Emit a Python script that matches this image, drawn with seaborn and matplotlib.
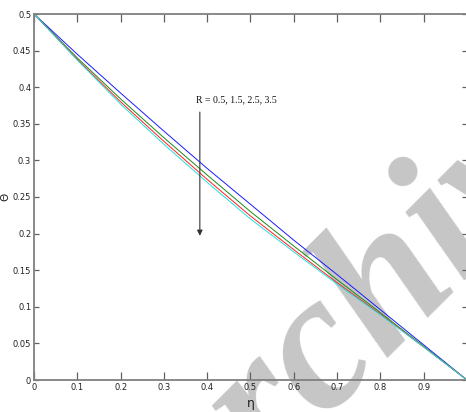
import numpy as np
import pandas as pd
import matplotlib
matplotlib.use("Agg")
import matplotlib.pyplot as plt
import seaborn as sns

# Temperature profile Theta(eta) for several values of the radiation parameter R
eta = [0.0, 0.1, 0.2, 0.3, 0.4, 0.5, 0.6, 0.7, 0.8, 0.9, 1.0]
theta_R05 = [0.500, 0.445, 0.392, 0.340, 0.289, 0.240, 0.191, 0.144, 0.096, 0.048, 0.0]
theta_R15 = [0.500, 0.440, 0.384, 0.331, 0.280, 0.230, 0.183, 0.137, 0.092, 0.046, 0.0]
theta_R25 = [0.500, 0.438, 0.380, 0.326, 0.274, 0.224, 0.178, 0.133, 0.090, 0.045, 0.0]
theta_R35 = [0.500, 0.437, 0.377, 0.322, 0.270, 0.220, 0.175, 0.131, 0.089, 0.045, 0.0]
r_values = ["0.5", "1.5", "2.5", "3.5"]
line_colors = ["#1a1aff", "#1a8a1a", "#ff2020", "#20e0e0"]

x_ticks = [0, 0.1, 0.2, 0.3, 0.4, 0.5, 0.6, 0.7, 0.8, 0.9]
x_tick_labels = ["0", "0.1", "0.2", "0.3", "0.4", "0.5", "0.6", "0.7", "0.8", "0.9"]
y_ticks = [0, 0.05, 0.1, 0.15, 0.2, 0.25, 0.3, 0.35, 0.4, 0.45, 0.5]
y_tick_labels = ["0", "0.05", "0.1", "0.15", "0.2", "0.25", "0.3", "0.35", "0.4", "0.45", "0.5"]

frames = []
for r, th in zip(r_values, [theta_R05, theta_R15, theta_R25, theta_R35]):
    frames.append(pd.DataFrame({"eta": eta, "theta": th, "R": r}))
df = pd.concat(frames, ignore_index=True)

sns.set_theme(style="white")
plt.rcParams["font.family"] = ["Liberation Sans Narrow", "DejaVu Sans"]

fig = plt.figure(figsize=(4.66, 4.12), dpi=100)
ax = fig.add_axes([34 / 466, 32 / 412, 433 / 466, 366 / 412])

# faint watermark behind the curves
ax.text(0.390, -0.393, "Archive", transform=fig.transFigure, fontsize=140,
        family="Liberation Serif", style="italic", weight="bold",
        color="#c6c6c6", rotation=45, rotation_mode="anchor",
        ha="left", va="baseline", zorder=0.5, clip_on=False)

sns.lineplot(data=df, x="eta", y="theta", hue="R", palette=line_colors,
             linewidth=0.7, legend=False, ax=ax, zorder=2)

ax.set_xlim(0, 1)
ax.set_ylim(0, 0.5)
ax.set_xticks(x_ticks)
ax.set_xticklabels(x_tick_labels)
ax.set_yticks(y_ticks)
ax.set_yticklabels(y_tick_labels)

for side in ["left", "right", "top", "bottom"]:
    ax.spines[side].set_visible(True)
    ax.spines[side].set_color("#808080")
    ax.spines[side].set_linewidth(1.3)

ax.tick_params(axis="x", direction="in", length=6, width=0.9, color="#606060",
               labelsize=6, pad=2, top=True, bottom=True, labelcolor="#222222")
ax.tick_params(axis="y", direction="in", length=3.5, width=0.9, color="#606060",
               labelsize=6, pad=2, left=True, right=True, labelcolor="#222222")

ax.set_xlabel("η", fontsize=9, labelpad=4, color="#222222", family="DejaVu Sans")
ax.set_ylabel("Θ", fontsize=7.5, color="#222222", family="DejaVu Sans")
ax.yaxis.set_label_coords(-0.054, 0.5)

ax.annotate("", xy=(0.383, 0.197), xytext=(0.383, 0.366),
            arrowprops=dict(arrowstyle="-|>", color="#333333", lw=0.8,
                            mutation_scale=8, shrinkA=0, shrinkB=0))
ax.text(0.374, 0.380, "R = 0.5, 1.5, 2.5, 3.5", fontsize=7,
        family="Liberation Serif", color="#111111", ha="left", va="baseline")

fig.savefig("out.png", dpi=100)
